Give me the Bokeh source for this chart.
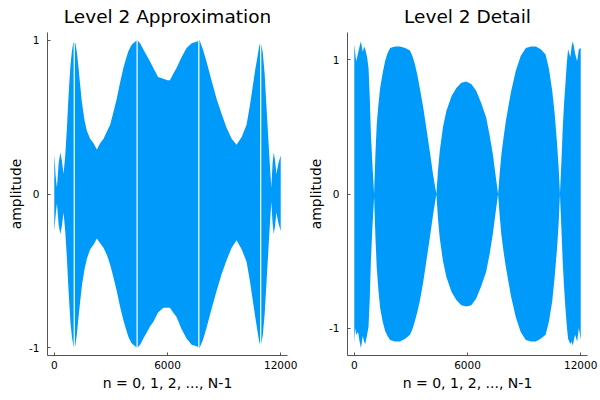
import numpy as np
from bokeh.plotting import figure
from bokeh.layouts import row
from bokeh.models import FixedTicker, Range1d
from bokeh.embed import file_html
from bokeh.resources import INLINE

# ---- Level 2 Approximation: envelope of the dense signal
approx_n = [0, 70, 140, 230, 320, 400, 490, 580, 670, 730,
            790, 860, 935, 1000, 1057, 1120, 1200, 1285, 1370, 1460,
            1600, 1730, 1900, 2080, 2255, 2430, 2610, 2800, 2960, 3130,
            3310, 3480, 3660, 3800, 3930, 4100, 4280, 4400, 4550, 4720,
            4900, 5080, 5250, 5500, 5780, 6000, 6130, 6300, 6480, 6750,
            7010, 7280, 7540, 7700, 7880, 8070, 8330, 8600, 8870, 9130,
            9400, 9660, 9930, 10190, 10360, 10530, 10650, 10780, 10860, 10940,
            11050, 11150, 11240, 11330, 11420, 11500, 11570, 11630, 11700, 11770,
            11880, 12000]
approx_upper = [0.26, 0.12, 0.04, 0.20, 0.27, 0.22, 0.13, 0.25, 0.43, 0.58,
                0.71, 0.84, 0.93, 0.98, 0.99, 0.98, 0.92, 0.82, 0.71, 0.60,
                0.48, 0.41, 0.36, 0.33, 0.29, 0.33, 0.36, 0.41, 0.45, 0.53,
                0.62, 0.72, 0.82, 0.88, 0.93, 0.97, 0.99, 1.00, 0.98, 0.94,
                0.90, 0.86, 0.82, 0.76, 0.75, 0.74, 0.74, 0.78, 0.82, 0.89,
                0.95, 0.98, 0.99, 1.00, 0.94, 0.86, 0.74, 0.62, 0.52, 0.43,
                0.36, 0.32, 0.37, 0.45, 0.57, 0.71, 0.81, 0.90, 0.96, 0.99,
                0.92, 0.78, 0.58, 0.39, 0.20, 0.04, 0.20, 0.27, 0.22, 0.13,
                0.20, 0.25]
approx_lower = [-0.24, -0.14, -0.06, -0.20, -0.26, -0.21, -0.12, -0.24, -0.42, -0.57,
                -0.70, -0.84, -0.93, -0.98, -1.00, -0.98, -0.91, -0.80, -0.70, -0.60,
                -0.49, -0.42, -0.36, -0.33, -0.29, -0.32, -0.35, -0.40, -0.46, -0.54,
                -0.63, -0.73, -0.82, -0.88, -0.93, -0.97, -0.99, -1.00, -0.98, -0.94,
                -0.90, -0.86, -0.83, -0.77, -0.74, -0.74, -0.74, -0.77, -0.80, -0.88,
                -0.94, -0.98, -0.99, -1.00, -0.95, -0.87, -0.75, -0.63, -0.52, -0.43,
                -0.35, -0.30, -0.36, -0.44, -0.56, -0.70, -0.80, -0.90, -0.96, -0.99,
                -0.92, -0.78, -0.59, -0.40, -0.21, -0.05, -0.19, -0.26, -0.21, -0.12,
                -0.19, -0.24]
approx_gap_n = [1057, 4390, 7660, 10940]

# ---- Level 2 Detail: envelope
detail_n = [0, 50, 100, 200, 280, 352, 450, 520, 580, 680, 755, 820, 880, 960, 1050,
            1120, 1190, 1280, 1370, 1500, 1630, 1760, 1900, 2150, 2420, 2700, 2950, 3080,
            3210, 3340, 3470, 3650, 3820, 4000, 4170, 4350,
            4440, 4530, 4700, 4880, 5150, 5410, 5670, 5930, 6200, 6460, 6720, 6990, 7170,
            7340, 7480, 7620,
            7710, 7800, 7920, 8040, 8300, 8560, 8820, 9090, 9350, 9620, 9880, 10140, 10320,
            10490, 10620, 10750, 10830, 10900,
            10980, 11050, 11120, 11190, 11260, 11330, 11450, 11520, 11580, 11640, 11700,
            11810, 11900, 12000]
detail_upper = [1.12, 1.05, 0.99, 1.05, 1.10, 1.14, 1.06, 1.10, 1.08, 1.02, 0.94, 0.72, 0.45, 0.22, 0.00,
                0.30, 0.52, 0.67, 0.79, 0.90, 0.99, 1.05, 1.09, 1.10, 1.10, 1.09, 1.07, 1.03,
                0.97, 0.89, 0.79, 0.65, 0.49, 0.32, 0.15, 0.00,
                0.18, 0.32, 0.50, 0.62, 0.73, 0.79, 0.83, 0.84, 0.82, 0.77, 0.68, 0.57, 0.44,
                0.30, 0.15, 0.00,
                0.16, 0.30, 0.43, 0.55, 0.76, 0.92, 1.03, 1.09, 1.10, 1.10, 1.08, 1.04, 0.93,
                0.77, 0.60, 0.37, 0.20, 0.00,
                0.25, 0.50, 0.68, 0.82, 0.97, 1.08, 1.02, 1.10, 1.14, 1.10, 1.05,
                0.99, 1.08, 1.09]
detail_lower = [-1.11, -1.00, -1.05, -1.03, -1.10, -1.15, -1.06, -1.10, -1.12, -1.05, -0.99, -0.78, -0.50, -0.25, -0.02,
                -0.32, -0.55, -0.72, -0.85, -0.95, -1.02, -1.06, -1.09, -1.10, -1.10, -1.08, -1.05, -1.01,
                -0.95, -0.88, -0.80, -0.66, -0.50, -0.33, -0.16, 0.00,
                -0.19, -0.33, -0.50, -0.62, -0.73, -0.79, -0.83, -0.84, -0.83, -0.78, -0.69, -0.58, -0.45,
                -0.30, -0.15, 0.00,
                -0.17, -0.31, -0.44, -0.55, -0.76, -0.92, -1.03, -1.09, -1.10, -1.10, -1.08, -1.05, -0.95,
                -0.80, -0.62, -0.40, -0.22, 0.00,
                -0.27, -0.52, -0.70, -0.85, -0.98, -1.08, -1.12, -1.10, -1.13, -1.09, -1.05,
                -1.10, -1.00, -1.09]
detail_gap_n = []

x_ticks = [0, 6000, 12000]
y_ticks = [-1, 0, 1]
y_tick_labels = ["-1", "0", "1"]

BLUE = "#009AFA"
AXIS = "#555555"
FONT = "DejaVu Sans"


def make_panel(title, n, up, lo, gaps, ylim):
    p = figure(width=300, height=400, output_backend="svg", toolbar_location=None,
               x_range=Range1d(-360, 12360), y_range=Range1d(-ylim, ylim),
               min_border_left=47, min_border_right=13, min_border_top=32,
               min_border_bottom=45)
    p.title.text = title
    p.title.align = "center"
    p.title.vertical_align = "top"
    p.title.text_font = FONT
    p.title.text_font_size = "18.5px"
    p.title.text_font_style = "normal"
    p.title.text_color = "black"
    p.title.standoff = 8
    p.outline_line_color = None
    p.xgrid.grid_line_color = None
    p.ygrid.grid_line_color = None
    p.background_fill_color = "white"
    p.border_fill_color = "white"

    p.varea(x=n, y1=lo, y2=up, fill_color=BLUE, fill_alpha=1.0)
    if gaps:
        g_lo = np.interp(gaps, n, lo)
        g_hi = np.interp(gaps, n, up)
        p.segment(x0=gaps, x1=gaps, y0=g_lo, y1=g_hi, line_color="white", line_width=1.2)

    p.xaxis.ticker = FixedTicker(ticks=x_ticks)
    p.yaxis.ticker = FixedTicker(ticks=y_ticks)
    p.yaxis.major_label_overrides = dict(zip(y_ticks, y_tick_labels))
    p.xaxis.axis_label = "n = 0, 1, 2, ..., N-1"
    p.yaxis.axis_label = "amplitude"
    for ax in (p.xaxis, p.yaxis):
        ax.axis_line_color = AXIS
        ax.axis_line_width = 1
        ax.major_tick_line_color = AXIS
        ax.major_tick_in = 3
        ax.major_tick_out = 0
        ax.minor_tick_line_color = None
        ax.major_label_text_font = FONT
        ax.major_label_text_font_size = "10.5px"
        ax.major_label_text_color = "black"
        ax.axis_label_text_font = FONT
        ax.axis_label_text_font_size = "14px"
        ax.axis_label_text_font_style = "normal"
        ax.axis_label_text_color = "black"
    p.xaxis.major_label_standoff = 5
    p.xaxis.axis_label_standoff = 3
    p.yaxis.major_label_standoff = 8
    p.yaxis.axis_label_standoff = 2
    return p


p1 = make_panel("Level 2 Approximation", approx_n, approx_upper, approx_lower, approx_gap_n, 1.05)
p2 = make_panel("Level 2 Detail", detail_n, detail_upper, detail_lower, detail_gap_n, 1.205)

layout = row(p1, p2)
open("out.html", "w").write(file_html(layout, INLINE))
